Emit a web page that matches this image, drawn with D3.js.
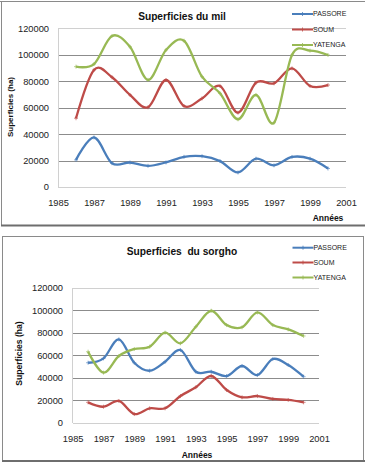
<!DOCTYPE html>
<html><head><meta charset="utf-8">
<script src="https://cdn.jsdelivr.net/npm/d3@7"></script>
<style>
html,body{margin:0;padding:0;background:#fff;}
svg{display:block;font-family:"Liberation Sans",Arial,sans-serif;}
</style></head>
<body>
<svg id="c" width="365" height="463"></svg>
<script>
const years = [1986,1987,1988,1989,1990,1991,1992,1993,1994,1995,1996,1997,1998,1999,2000];
const seriesNames = ["PASSORE","SOUM","YATENGA"];
const seriesColors = ["#4a7ebb","#be4b48","#98b954"];
const xTicks = [1985,1987,1989,1991,1993,1995,1997,1999,2001];
const yTicks = [0,20000,40000,60000,80000,100000,120000];

const milPassore = [20500,37500,18000,18500,16000,18600,22800,23300,19600,11000,21400,16400,22700,21400,14000];
const milSoum    = [52000,88500,83000,69600,60300,80900,61200,67000,76400,56200,78900,78400,89700,76400,77100];
const milYatenga = [91000,93000,114200,106000,81000,103600,110600,83400,70800,51200,69600,48600,99800,103100,99800];

const sorPassore = [53300,57200,74100,53300,46200,54200,64600,45300,45300,41500,50400,42400,56600,51300,40900];
const sorSoum    = [18100,14200,19300,7700,12800,12800,23700,31500,41500,29100,22600,23700,21100,20200,18100];
const sorYatenga = [63100,44500,59300,65500,67600,80000,70600,85300,99500,86800,84800,98000,86800,83000,77100];

const svg = d3.select("#c");

// frames
svg.append("line").attr("x1",0).attr("x2",365).attr("y1",1.5).attr("y2",1.5).attr("stroke","#8a8a8a").attr("stroke-width",1);
svg.append("line").attr("x1",1.5).attr("x2",1.5).attr("y1",1).attr("y2",225).attr("stroke","#8a8a8a").attr("stroke-width",1);
svg.append("line").attr("x1",1).attr("x2",365).attr("y1",225.5).attr("y2",225.5).attr("stroke","#6e6e6e").attr("stroke-width",2);
svg.append("rect").attr("x",2.5).attr("y",236.5).attr("width",361).attr("height",224).attr("fill","none").attr("stroke","#8a8a8a").attr("stroke-width",1);
svg.append("line").attr("x1",2).attr("x2",365).attr("y1",461).attr("y2",461).attr("stroke","#6e6e6e").attr("stroke-width",2);

function drawChart(cfg){
  const g = svg.append("g");
  const x = d3.scaleLinear().domain([1985,2001]).range([cfg.left,cfg.right]);
  const y = d3.scaleLinear().domain([0,120000]).range([cfg.bottom,cfg.top]);

  // gridlines
  const yAxis = d3.axisLeft(y).tickValues(yTicks).tickSize(-(cfg.gridRight-cfg.left)).tickFormat(d=>d);
  const ya = g.append("g").attr("transform",`translate(${cfg.left},0)`).call(yAxis);
  ya.select(".domain").remove();
  ya.selectAll(".tick line").attr("stroke",d=> (d===0||d===120000)?"#d0d0d0":"#8c8c8c").attr("stroke-width",1)
    .attr("shape-rendering","crispEdges");
  ya.selectAll(".tick text").attr("x",-(cfg.left-cfg.yLabelRight)).attr("font-size","9.3px").attr("fill","#222")
    .attr("font-family","Liberation Sans, Arial, sans-serif");
  // left axis line
  g.append("line").attr("x1",cfg.left).attr("x2",cfg.left).attr("y1",cfg.top).attr("y2",cfg.bottom)
    .attr("stroke","#d0d0d0").attr("shape-rendering","crispEdges");

  const xAxis = d3.axisBottom(x).tickValues(xTicks).tickSize(0).tickFormat(d=>d);
  const xa = g.append("g").attr("transform",`translate(0,${cfg.bottom})`).call(xAxis);
  xa.select(".domain").remove();
  xa.selectAll(".tick text").attr("y",cfg.xLabelY-cfg.bottom).attr("dy","0.35em").attr("font-size","9.3px").attr("fill","#222")
    .attr("font-family","Liberation Sans, Arial, sans-serif");

  const line = d3.line().x((d,i)=>x(years[i])).y(d=>y(d)).curve(d3.curveCardinal.tension(0));
  cfg.data.forEach((s,k)=>{
    g.append("path").attr("d",line(s)).attr("fill","none").attr("stroke",seriesColors[k]).attr("stroke-width",2.3);
    g.selectAll(null).data(s).enter().append("path")
      .attr("d",(d,i)=>`M${x(years[i])-2},${y(d)}h4M${x(years[i])},${y(d)-2}v4`)
      .attr("stroke",seriesColors[k]).attr("stroke-width",0.8).attr("opacity",0.8);
  });

  // title
  g.append("text").attr("x",cfg.titleX).attr("y",cfg.titleY).attr("text-anchor","middle").attr("dy","0.35em")
    .attr("font-weight","bold").attr("font-size","10.2px").attr("fill","#111").style("white-space","pre").text(cfg.title);
  // y title
  g.append("text").attr("transform",`translate(${cfg.yTitleX},${cfg.yTitleY}) rotate(-90)`).attr("text-anchor","middle")
    .attr("dy","0.35em").attr("font-weight","bold").attr("font-size",cfg.yTitleSize).attr("fill","#111").text("Superficies (ha)");
  // x title
  g.append("text").attr("x",cfg.xTitleX).attr("y",cfg.xTitleY).attr("text-anchor","middle").attr("dy","0.35em")
    .attr("font-weight","bold").attr("font-size","8.5px").attr("fill","#111").text("Années");

  // legend
  seriesNames.forEach((n,k)=>{
    const ly = cfg.legendY[k];
    g.append("line").attr("x1",cfg.legendX).attr("x2",cfg.legendX+21).attr("y1",ly).attr("y2",ly)
      .attr("stroke",seriesColors[k]).attr("stroke-width",2);
    g.append("path").attr("d",`M${cfg.legendX+8.5},${ly}h4M${cfg.legendX+10.5},${ly-2}v4`)
      .attr("stroke",seriesColors[k]).attr("stroke-width",0.8);
    g.append("text").attr("x",cfg.legendX+21).attr("y",ly).attr("dy","0.35em").attr("font-size","7px")
      .attr("fill","#222").text(n);
  });
}

drawChart({
  left:58,right:346,gridRight:346,top:28.3,bottom:187,yLabelRight:49,xLabelY:202.7,
  data:[milPassore,milSoum,milYatenga],
  title:"Superficies du mil",titleX:182,titleY:16.5,
  yTitleX:10,yTitleY:107,yTitleSize:"8px",
  xTitleX:328,xTitleY:218.5,
  legendX:292,legendY:[14,29.5,45]
});
drawChart({
  left:72.7,right:319,gridRight:319,top:287.7,bottom:422.7,yLabelRight:63,xLabelY:439,
  data:[sorPassore,sorSoum,sorYatenga],
  title:"Superficies  du sorgho",titleX:182,titleY:251.7,
  yTitleX:19,yTitleY:353.5,yTitleSize:"8.6px",
  xTitleX:197,xTitleY:455,
  legendX:292.5,legendY:[247.7,262.5,277.5]
});
</script>
</body></html>
